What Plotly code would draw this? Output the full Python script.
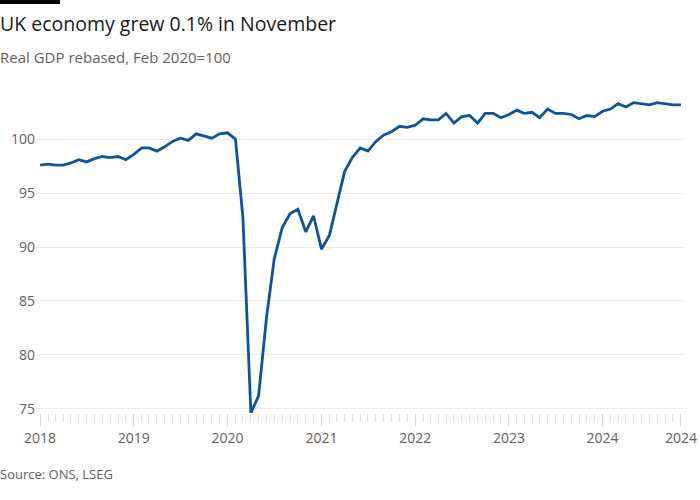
import plotly.graph_objects as go
import pandas as pd

dates = pd.date_range("2018-01-01", "2024-11-01", freq="MS")
gdp = [
    97.6, 97.7, 97.6, 97.6, 97.8, 98.1, 97.9, 98.2, 98.4, 98.3, 98.4, 98.1,
    98.6, 99.2, 99.2, 98.9, 99.3, 99.8, 100.1, 99.9, 100.5, 100.3, 100.1, 100.5,
    100.6, 100.0, 92.7, 74.6, 76.2, 83.5, 88.9, 91.8, 93.1, 93.5, 91.4, 92.9,
    89.8, 91.1, 93.8, 97.0, 98.3, 99.2, 98.9, 99.8, 100.4, 100.7, 101.2, 101.1,
    101.3, 101.9, 101.8, 101.8, 102.4, 101.5, 102.1, 102.2, 101.5, 102.4, 102.4, 102.0,
    102.3, 102.7, 102.4, 102.5, 102.0, 102.8, 102.4, 102.4, 102.3, 101.9, 102.2, 102.1,
    102.6, 102.8, 103.3, 103.0, 103.4, 103.3, 103.2, 103.4, 103.3, 103.2, 103.2,
]
tick_dates = ["2018-01-01", "2019-01-01", "2020-01-01", "2021-01-01", "2022-01-01",
              "2023-01-01", "2024-01-01", "2024-11-01"]
tick_text = ["2018", "2019", "2020", "2021", "2022", "2023", "2024", "2024"]
y_ticks = [75, 80, 85, 90, 95, 100]

title = "UK economy grew 0.1% in November"
subtitle = "Real GDP rebased, Feb 2020=100"
source = "Source: ONS, LSEG"

W, H = 700, 500
L, R, T, B = 36, 16, 94, 87
pw, ph = W - L - R, H - T - B

def px(x):
    return (x - L) / pw

def py(y):
    return (H - B - y) / ph

FONT = "Open Sans"
GREY = "#66605c"

fig = go.Figure()
fig.add_trace(go.Scatter(
    x=dates, y=gdp, mode="lines",
    line=dict(color="#0f5499", width=2.8),
    hoverinfo="skip",
))

fig.update_layout(
    width=W, height=H,
    margin=dict(l=L, r=R, t=T, b=B, autoexpand=False),
    paper_bgcolor="white", plot_bgcolor="white",
    showlegend=False,
    font=dict(family=FONT, color=GREY),
    xaxis=dict(
        type="date", automargin=False,
        range=["2017-12-16", "2024-11-13"],
        tickmode="array", tickvals=tick_dates, ticktext=tick_text,
        ticks="outside", ticklen=12, tickcolor="#dcd8d4", tickwidth=1,
        tickfont=dict(size=14, color=GREY, family=FONT),
        showgrid=False, zeroline=False, showline=False,
        minor=dict(tickmode="linear", tick0="2018-01-01", dtick="M1",
                   ticks="outside", ticklen=8, tickcolor="#e4e0dc", tickwidth=1,
                   showgrid=False),
    ),
    yaxis=dict(
        range=[74.6, 104.2], automargin=False,
        tickmode="array", tickvals=y_ticks,
        ticks="", showgrid=True, gridcolor="#ebe8e5", gridwidth=1,
        tickfont=dict(size=14, color=GREY, family=FONT),
        zeroline=False, showline=False,
    ),
)

fig.add_shape(type="rect", xref="paper", yref="paper",
              x0=px(0), x1=px(60), y0=py(0), y1=py(4),
              fillcolor="black", line=dict(width=0))

fig.add_annotation(text=title, xref="paper", yref="paper",
                   x=px(-2), y=py(24), xanchor="left", yanchor="middle",
                   showarrow=False, font=dict(size=19.5, color="#1a1a1a", family=FONT))
fig.add_annotation(text=subtitle, xref="paper", yref="paper",
                   x=px(-2), y=py(57), xanchor="left", yanchor="middle",
                   showarrow=False, font=dict(size=15, color=GREY, family=FONT))
fig.add_annotation(text=source, xref="paper", yref="paper",
                   x=px(-2), y=py(474), xanchor="left", yanchor="middle",
                   showarrow=False, font=dict(size=13, color=GREY, family=FONT))

fig.write_html("out.html")
